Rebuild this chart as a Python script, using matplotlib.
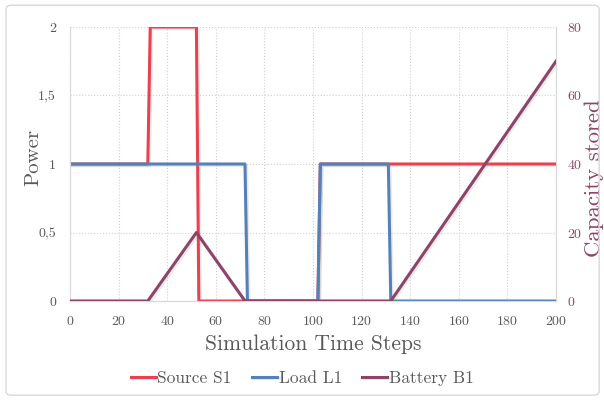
import matplotlib
matplotlib.use("Agg")
import matplotlib.pyplot as plt
import matplotlib.patheffects as pe
from matplotlib.patches import FancyBboxPatch

plt.rcParams['font.family'] = ['cmr10', 'DejaVu Serif']
plt.rcParams['axes.formatter.use_mathtext'] = True

# Data (breakpoints of each series)
source_x = [0, 32, 33, 52, 53, 102, 103, 200]
source_y = [1, 1, 2, 2, 0, 0, 1, 1]
load_x = [0, 72, 73, 102, 103, 131, 132, 200]
load_y = [1, 1, 0, 0, 1, 1, 0, 0]
battery_x = [0, 32, 52, 72, 132, 200]
battery_y = [0, 0, 20, 0, 0, 70]

x_ticks = [0, 20, 40, 60, 80, 100, 120, 140, 160, 180, 200]
y_ticks = [0, 0.5, 1, 1.5, 2]
y_ticklabels = ['0', '0,5', '1', '1,5', '2']
y2_ticks = [0, 20, 40, 60, 80]

c_src = '#E8424F'
c_load = '#5482B8'
c_bat = '#8C4468'
c_txt = '#595959'
c_grid = '#D0D0D0'

fig = plt.figure(figsize=(6.04, 4.0), dpi=100)
border = FancyBboxPatch((0.01, 0.012), 0.982, 0.975, boxstyle="round,pad=0,rounding_size=0.01",
                        transform=fig.transFigure, fill=False, edgecolor='#D9D9D9', linewidth=1)
fig.patches.append(border)

ax = fig.add_axes([0.116, 0.2475, 0.8045, 0.685])
ax2 = ax.twinx()

shadow = [pe.SimpleLineShadow(offset=(1.2, -1.2), shadow_color='#999999', alpha=0.2), pe.Normal()]

l1, = ax.plot(source_x, source_y, color=c_src, lw=2.2, label='Source S1', path_effects=shadow, zorder=3)
l2, = ax.plot(load_x, load_y, color=c_load, lw=2.2, label='Load L1', path_effects=shadow, zorder=4)
l3, = ax2.plot(battery_x, battery_y, color=c_bat, lw=2.2, label='Battery B1', path_effects=shadow, zorder=5)

ax.set_xlim(0, 200)
ax.set_ylim(0, 2)
ax2.set_ylim(0, 80)
ax.set_xticks(x_ticks)
ax.set_yticks(y_ticks)
ax.set_yticklabels(y_ticklabels)
ax2.set_yticks(y2_ticks)

ax.grid(True, color=c_grid, linestyle=':', linewidth=0.8)
ax.set_axisbelow(True)

for a in (ax, ax2):
    a.spines['top'].set_visible(False)
    a.spines['left'].set_color('#D9D9D9')
    a.spines['right'].set_color('#D9D9D9')
    a.spines['bottom'].set_color('#D9D9D9')

ax.tick_params(axis='x', length=0, colors=c_txt, labelsize=10, pad=10)
ax.tick_params(axis='y', length=0, colors=c_txt, labelsize=10, pad=10)
ax2.tick_params(axis='y', length=0, colors=c_bat, labelsize=10, pad=8)

ax.set_xlabel('Simulation Time Steps', fontsize=15.5, color=c_txt, labelpad=5)
ax.set_ylabel('Power', fontsize=15, color=c_txt)
ax.yaxis.set_label_coords(-0.058, 0.525)
ax2.set_ylabel('Capacity stored', fontsize=16.5, color=c_bat)
ax2.yaxis.set_label_coords(1.059, 0.447)

fig.legend(handles=[l1, l2, l3], loc='center', bbox_to_anchor=(0.5, 0.055), ncol=3,
           frameon=False, fontsize=12.5, labelcolor=c_txt, handlelength=1.45,
           handletextpad=0.1, columnspacing=1.15)

fig.savefig('out.png', dpi=100)
